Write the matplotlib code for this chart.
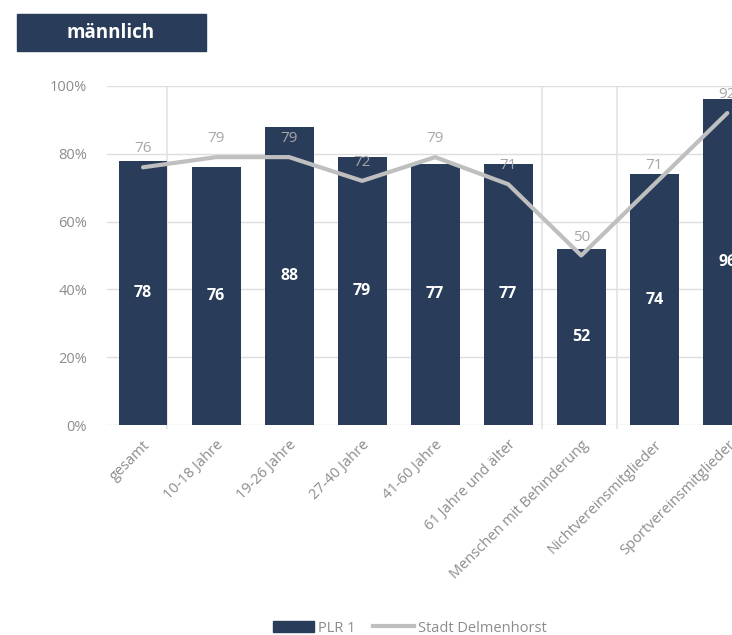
import matplotlib.pyplot as plt
from matplotlib.patches import Rectangle
from matplotlib.lines import Line2D
from matplotlib.ticker import FuncFormatter
import numpy as np

plt.rcParams['font.family'] = ['Open Sans', 'DejaVu Sans']

categories = ["gesamt", "10-18 Jahre", "19-26 Jahre", "27-40 Jahre", "41-60 Jahre",
              "61 Jahre und älter", "Menschen mit Behinderung",
              "Nichtvereinsmitglieder", "Sportvereinsmitglieder"]
plr1 = [78, 76, 88, 79, 77, 77, 52, 74, 96]
stadt = [76, 79, 79, 72, 79, 71, 50, 71, 92]
separators = [0.33, 5.46, 6.49]

bar_color = "#293D5A"
line_color = "#BFBFBF"
text_gray = "#8C8C8C"
grid_color = "#DEDEDE"

fig = plt.figure(figsize=(7.32, 6.35), dpi=100)
ax = fig.add_axes([0.1455, 0.3307, 0.898, 0.534])

x = np.arange(len(categories))
ax.bar(x, plr1, width=0.67, color=bar_color, zorder=2)
ax.plot(x, stadt, color=line_color, linewidth=3, zorder=3, solid_capstyle='round')

for xi, v in zip(x, plr1):
    ax.text(xi, v / 2, str(v), color="white", ha="center", va="center",
            fontsize=11.5, fontweight="bold", zorder=4)
for xi, v in zip(x, stadt):
    ax.text(xi, v + 3.2, str(v), color="#A6A6A6", ha="center", va="bottom",
            fontsize=11, zorder=4)

ax.set_xlim(-0.5, len(categories) - 0.5)
ax.set_ylim(0, 100)
ax.set_yticks(range(0, 101, 20))
ax.yaxis.set_major_formatter(FuncFormatter(lambda v, p: f"{int(v)}%"))
ax.grid(axis="y", color=grid_color, linewidth=1, zorder=0)
for s in separators:
    ax.plot([s, s], [-1, 99.5], color="#E8E8E8", linewidth=1.5, zorder=1, clip_on=False)
for sp in ax.spines.values():
    sp.set_visible(False)
ax.tick_params(length=0, colors=text_gray, labelsize=10.5)
ax.tick_params(axis="y", pad=14)
ax.tick_params(axis="x", pad=9)
ax.set_xticks(x)
ax.set_xticklabels(categories, rotation=45, ha="right", va="top",
                   rotation_mode="anchor", color=text_gray, fontsize=10.5)

# title box
fig.patches.append(Rectangle((17 / 732, 1 - 51 / 635), 189 / 732, 37 / 635,
                             transform=fig.transFigure, color=bar_color, zorder=0))
fig.text(111 / 732, 1 - 33 / 635, "männlich", color="white", fontsize=13.5,
         fontweight="bold", ha="center", va="center")

handles = [Rectangle((0, 0), 1, 1, color=bar_color),
           Line2D([0], [0], color=line_color, linewidth=3)]
fig.legend(handles, ["PLR 1", "Stadt Delmenhorst"], loc="center",
           bbox_to_anchor=(410 / 732, 1 - 628 / 635), ncol=2, frameon=False,
           fontsize=10.5, labelcolor=text_gray, handlelength=2.8,
           columnspacing=1.2, handletextpad=0.3)

fig.savefig("out.png", dpi=100)
